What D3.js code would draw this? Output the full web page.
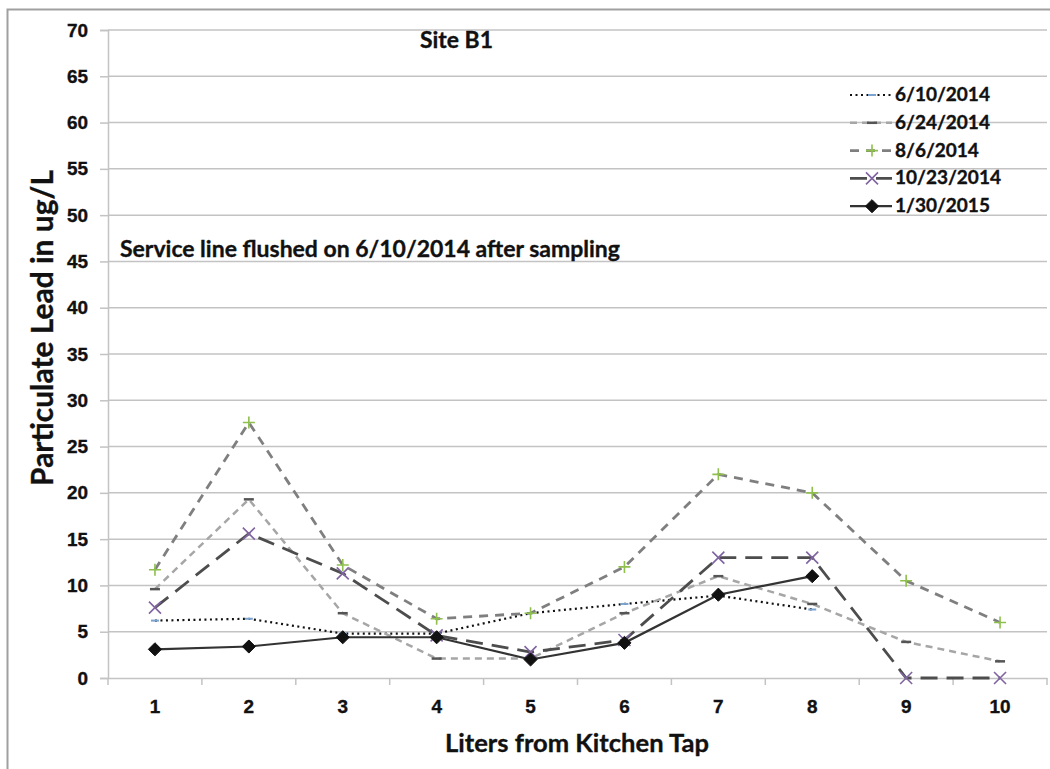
<!DOCTYPE html>
<html>
<head>
<meta charset="utf-8">
<script src="https://cdn.jsdelivr.net/npm/d3@7"></script>
<style>
  html, body { margin: 0; padding: 0; background: #fff; }
  svg { display: block; font-family: Lato, "Open Sans", "Liberation Sans", sans-serif; font-weight: bold; }
  text { fill: #111; stroke: #111; stroke-width: 0.35px; }
</style>
</head>
<body>
<svg id="chart" width="1050" height="769"></svg>
<script>
// Liters drawn from the kitchen tap
const liters = [1, 2, 3, 4, 5, 6, 7, 8, 9, 10];
const yTicks = [0, 5, 10, 15, 20, 25, 30, 35, 40, 45, 50, 55, 60, 65, 70];

// Particulate lead (ug/L) per sampling date
const s20140610 = [6.2, 6.4, 4.8, 4.8, 7.0, 8.0, 8.9, 7.4];
const s20140624 = [9.6, 19.3, 7.0, 2.1, 2.1, 7.0, 11.0, 8.0, 3.9, 1.8];
const s20140806 = [11.7, 27.6, 12.2, 6.4, 7.0, 12.0, 22.0, 20.0, 10.5, 6.0];
const s20141023 = [7.6, 15.6, 11.3, 4.6, 2.8, 4.1, 13.0, 13.0, 0, 0];
const s20150130 = [3.1, 3.4, 4.4, 4.4, 2.0, 3.8, 9.0, 11.0];

const seriesNames = ["6/10/2014", "6/24/2014", "8/6/2014", "10/23/2014", "1/30/2015"];
const seriesValues = [s20140610, s20140624, s20140806, s20141023, s20150130];

const styles = [
  { stroke: "#111", width: 2.2, dash: "2,3.5", marker: "bluedash" },
  { stroke: "#a6a6a6", width: 2.5, dash: "7,5", marker: "graydash" },
  { stroke: "#7f7f7f", width: 2.8, dash: "9,7", marker: "plus" },
  { stroke: "#4d4d4d", width: 2.8, dash: "17,9", marker: "cross" },
  { stroke: "#333", width: 2.2, dash: null, marker: "diamond" }
];

const svg = d3.select("#chart");
const plotLeft = 108, plotRight = 1047, plotTop = 30, plotBottom = 678;

// size a text so that its rendered width equals the given width
function fitWidth(sel, width) {
  sel.attr("font-size", 20);
  const w = sel.node().getComputedTextLength();
  sel.attr("font-size", (20 * width / w).toFixed(2));
  return sel;
}

// outer chart frame
svg.append("path")
  .attr("d", "M7.5,769 V9.5 H1050")
  .attr("fill", "none").attr("stroke", "#a0a0a0").attr("stroke-width", 2);

const x = d3.scaleBand().domain(liters).range([plotLeft, plotRight]);
const y = d3.scaleLinear().domain([0, 70]).range([plotBottom, plotTop]);

// horizontal gridlines
svg.append("g").selectAll("line").data(yTicks.filter(d => d > 0)).join("line")
  .attr("x1", plotLeft).attr("x2", plotRight)
  .attr("y1", d => y(d)).attr("y2", d => y(d))
  .attr("stroke", "#c3c3c3").attr("stroke-width", 1.5);

// y axis
const yAxis = svg.append("g").attr("transform", `translate(${plotLeft},0)`)
  .call(d3.axisLeft(y).tickValues(yTicks).tickSize(8).tickPadding(12));
yAxis.select(".domain").attr("stroke", "#c3c3c3").attr("stroke-width", 1.5);
yAxis.selectAll(".tick line").attr("stroke", "#c3c3c3").attr("stroke-width", 1.5);
yAxis.selectAll("text").attr("font-family", null).attr("fill", "#111");
const tickSize = (() => {
  const probe = svg.append("text").text("45");
  fitWidth(probe, 22);
  const s = +probe.attr("font-size");
  probe.remove();
  return s;
})();
yAxis.attr("font-size", null).selectAll("text").attr("font-size", tickSize);

// x axis
const xAxis = svg.append("g").attr("transform", `translate(0,${plotBottom})`)
  .call(d3.axisBottom(x).tickSize(0).tickPadding(22));
xAxis.select(".domain").attr("stroke", "#c3c3c3").attr("stroke-width", 1.5);
xAxis.attr("font-size", null).selectAll("text").attr("font-family", null)
  .attr("fill", "#111").attr("font-size", tickSize);
// tick marks sit on the category boundaries
svg.append("g").selectAll("line").data(liters.concat([null])).join("line")
  .attr("x1", (d, i) => plotLeft + i * x.step()).attr("x2", (d, i) => plotLeft + i * x.step())
  .attr("y1", plotBottom).attr("y2", plotBottom + 7)
  .attr("stroke", "#c3c3c3").attr("stroke-width", 1.5);

// titles and notes
fitWidth(svg.append("text").attr("x", 420).attr("y", 48).text("Site B1"), 73);
fitWidth(svg.append("text").attr("x", 120).attr("y", 257)
  .text("Service line flushed on 6/10/2014 after sampling"), 500);
fitWidth(svg.append("text").attr("x", 577).attr("y", 752).attr("text-anchor", "middle")
  .text("Liters from Kitchen Tap"), 264);
fitWidth(svg.append("text").attr("transform", "translate(53,328) rotate(-90)").attr("text-anchor", "middle")
  .text("Particulate Lead in ug/L"), 316);

function drawMarker(g, kind, cx, cy) {
  if (kind === "bluedash") {
    g.append("line").attr("x1", cx - 4).attr("x2", cx + 4).attr("y1", cy).attr("y2", cy)
      .attr("stroke", "#7ba3d0").attr("stroke-width", 2);
  } else if (kind === "graydash") {
    g.append("line").attr("x1", cx - 5).attr("x2", cx + 5).attr("y1", cy).attr("y2", cy)
      .attr("stroke", "#555").attr("stroke-width", 2.5);
  } else if (kind === "plus") {
    g.append("path").attr("d", `M${cx - 6},${cy}H${cx + 6}M${cx},${cy - 6}V${cy + 6}`)
      .attr("stroke", "#8fbf4d").attr("stroke-width", 1.6).attr("fill", "none");
  } else if (kind === "cross") {
    g.append("path").attr("d", `M${cx - 6},${cy - 6}L${cx + 6},${cy + 6}M${cx - 6},${cy + 6}L${cx + 6},${cy - 6}`)
      .attr("stroke", "#8064a2").attr("stroke-width", 1.6).attr("fill", "none");
  } else if (kind === "diamond") {
    g.append("path").attr("d", d3.symbol(d3.symbolDiamond2, 110)())
      .attr("transform", `translate(${cx},${cy})`)
      .attr("fill", "#111").attr("stroke", "#111").attr("stroke-width", 1);
  }
}

const line = d3.line()
  .x((d, i) => x(liters[i]) + x.bandwidth() / 2)
  .y(d => y(d));

// series lines and markers
seriesValues.forEach((vals, si) => {
  const st = styles[si];
  const g = svg.append("g");
  g.append("path").datum(vals).attr("d", line)
    .attr("fill", "none").attr("stroke", st.stroke).attr("stroke-width", st.width)
    .attr("stroke-dasharray", st.dash);
  vals.forEach((v, i) => drawMarker(g, st.marker, x(liters[i]) + x.bandwidth() / 2, y(v)));
});

// legend
const leg = svg.append("g");
let legendSize = null;
seriesNames.forEach((name, si) => {
  const st = styles[si];
  const ly = 95 + si * 27.8;
  const g = leg.append("g");
  g.append("line").attr("x1", 850).attr("x2", 892).attr("y1", ly).attr("y2", ly)
    .attr("stroke", st.stroke).attr("stroke-width", st.width)
    .attr("stroke-dasharray", st.dash);
  drawMarker(g, st.marker, 872, ly);
  const t = g.append("text").attr("x", 895).attr("y", ly + 6).text(name);
  if (legendSize === null) legendSize = +fitWidth(t, 95).attr("font-size");
  t.attr("font-size", legendSize);
});
</script>
</body>
</html>
